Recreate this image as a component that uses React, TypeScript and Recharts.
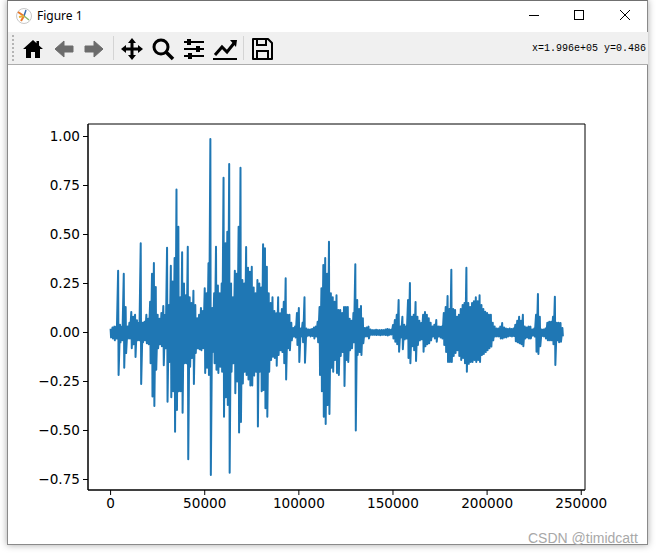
import { LineChart, Line, XAxis, YAxis, ReferenceArea } from 'recharts';

// one column of the waveform every 1000 samples: upper and lower envelope
const peaks = [
  .02, .025, .03, .03, .315, .04, .03, .30, .13, .03,
  .05, .105, .08, .09, .063, .05, .455, .05, .055, .09,
  .07, .157, .30, .354, .232, .09, .07, .1, .135, .09,
  .433, .14, .34, .26, .38, .73, .54, .18, .41, .25,
  .19, .438, .18, .15, .213, .14, .073, .09, .125, .11,
  .226, .2, .353, .987, .125, .2, .438, .24, .2, .25,
  .79, .455, .514, .86, .25, .18, .315, .30, .54, .84,
  .268, .25, .436, .33, .31, .336, .23, .2, .268, .25,
  .23, .45, .43, .336, .2, .15, .18, .11, .098, .18,
  .098, .12, .157, .277, .09, .09, .05, .023, .03, .1,
  .125, .02, .05, .18, .02, .015, .015, .018, .025, .03,
  .055, .13, .226, .344, .38, .3, .463, .2, .18, .157,
  .19, .115, .115, .1, .13, .13, .13, .07, .06, .1,
  .348, .166, .12, .135, .073, .023, .025, .03, .015, .012,
  .012, .014, .012, .012, .013, .012, .015, .018, .016, .014,
  .038, .064, .09, .166, .03, .08, .04, .03, .166, .252,
  .08, .09, .155, .08, .06, .048, .09, .104, .09, .073,
  .05, .03, .04, .064, .03, .03, .03, .1, .13, .186,
  .12, .32, .12, .115, .08, .09, .12, .14, .15, .33,
  .15, .13, .15, .16, .18, .16, .19, .14, .12, .106,
  .1, .09, .09, .05, .03, .02, .02, .03, .048, .025,
  .02, .018, .02, .018, .02, .04, .06, .08, .06, .09,
  .03, .025, .03, .03, .015, .02, .09, .196, .08, .015,
  .015, .02, .05, .055, .055, .08, .183, .05, .05, .048, .023,
];

const troughs = [
  -.025, -.03, -.04, -.03, -.217, -.05, -.04, -.18, -.105, -.03,
  -.03, -.08, -.06, -.125, -.04, -.04, -.263, -.05, -.04, -.055,
  -.06, -.157, -.327, -.375, -.19, -.08, -.06, -.07, -.167, -.08,
  -.353, -.15, -.33, -.3, -.506, -.396, -.3, -.3, -.41, -.157,
  -.157, -.647, -.175, -.13, -.263, -.105, -.08, -.085, -.09, -.08,
  -.207, -.18, -.217, -.727, -.1, -.157, -.19, -.207, -.175, -.2,
  -.43, -.33, -.37, -.715, -.2, -.157, -.31, -.25, -.51, -.457,
  -.26, -.2, -.217, -.24, -.27, -.27, -.22, -.2, -.48, -.2,
  -.30, -.293, -.386, -.43, -.2, -.14, -.124, -.13, -.17, -.115,
  -.09, -.1, -.157, -.24, -.08, -.09, -.04, -.02, -.025, -.064,
  -.15, -.02, -.05, -.154, -.02, -.015, -.02, -.018, -.03, -.02,
  -.05, -.217, -.30, -.43, -.467, -.37, -.416, -.18, -.2, -.14,
  -.207, -.217, -.12, -.1, -.273, -.14, -.15, -.09, -.08, -.05,
  -.5, -.115, -.1, -.115, -.055, -.02, -.02, -.03, -.012, -.012,
  -.012, -.013, -.012, -.014, -.012, -.012, -.013, -.015, -.012, -.01,
  -.03, -.047, -.06, -.098, -.025, -.085, -.035, -.03, -.13, -.157,
  -.07, -.09, -.145, -.064, -.04, -.035, -.098, -.07, -.06, -.055,
  -.04, -.02, -.03, -.047, -.02, -.025, -.03, -.064, -.1, -.15,
  -.15, -.15, -.12, -.105, -.09, -.12, -.14, -.13, -.157, -.2,
  -.16, -.15, -.15, -.14, -.15, -.14, -.15, -.115, -.11, -.1,
  -.09, -.08, -.072, -.04, -.02, -.02, -.02, -.03, -.03, -.025,
  -.025, -.02, -.018, -.02, -.018, -.045, -.05, -.055, -.06, -.07,
  -.03, -.025, -.03, -.03, -.015, -.02, -.098, -.11, -.07, -.018,
  -.02, -.03, -.04, -.04, -.04, -.06, -.166, -.04, -.05, -.047, -.02,
];

const xTicks = [0, 50000, 100000, 150000, 200000, 250000];
const yTicks = [-0.75, -0.5, -0.25, 0, 0.25, 0.5, 0.75, 1];
const xDomain = [-12000, 252000];
const yDomain = [-0.8036, 1.0638];

const waveform = peaks.flatMap((p, i) => [
  { sample: i * 1000, value: p },
  { sample: i * 1000 + 250, value: troughs[i] },
]);

const tickStyle = { fill: '#000', fontSize: 13.6, fontFamily: 'DejaVu Sans' };
const formatY = (v: number) => v.toFixed(2).replace('-', '\u2212');

function Icon({ x, children }: { x: number; children: React.ReactNode }) {
  return (
    <svg width={24} height={24} viewBox="0 0 24 24" style={{ position: 'absolute', left: x - 12, top: 37 }}>
      {children}
    </svg>
  );
}

function Toolbar() {
  return (
    <div style={{ position: 'absolute', left: 8, right: 8, top: 32, height: 32, background: '#f0f0f0', borderBottom: '1px solid #acacac' }}>
      <div style={{ position: 'absolute', left: 4, top: 3, width: 2, height: 26, borderLeft: '2px dotted #b4b4b4' }} />
      <div style={{ position: 'absolute', left: 105, top: 4, width: 1, height: 24, background: '#d4d4d4' }} />
      <div style={{ position: 'absolute', left: 235, top: 4, width: 1, height: 24, background: '#d4d4d4' }} />
    </div>
  );
}

function Icons() {
  return (
    <div>
      <Icon x={33}>
        <path d="M12 3 L2 12 L5 12 L5 21 L10 21 L10 15 L14 15 L14 21 L19 21 L19 12 L22 12 L18 8.5 L18 4 L15.5 4 L15.5 6.2 Z" fill="#000" />
      </Icon>
      <Icon x={64}>
        <path d="M12 4 L3 12 L12 20 L12 15 L21 15 L21 9 L12 9 Z" fill="#6c6c6c" stroke="#6c6c6c" strokeLinejoin="round" />
      </Icon>
      <Icon x={94}>
        <path d="M12 4 L21 12 L12 20 L12 15 L3 15 L3 9 L12 9 Z" fill="#6c6c6c" stroke="#6c6c6c" strokeLinejoin="round" />
      </Icon>
      <Icon x={132}>
        <path d="M12 1 L16 6 L13.5 6 L13.5 10.5 L18 10.5 L18 8 L23 12 L18 16 L18 13.5 L13.5 13.5 L13.5 18 L16 18 L12 23 L8 18 L10.5 18 L10.5 13.5 L6 13.5 L6 16 L1 12 L6 8 L6 10.5 L10.5 10.5 L10.5 6 L8 6 Z" fill="#000" />
      </Icon>
      <Icon x={163}>
        <circle cx={10} cy={10} r={7} fill="none" stroke="#000" strokeWidth={3} />
        <path d="M15 15 L22 22" stroke="#000" strokeWidth={3.5} />
      </Icon>
      <Icon x={194}>
        <path d="M2 5 H22 M2 12 H22 M2 19 H22" stroke="#000" strokeWidth={2} />
        <rect x={5} y={2} width={4} height={6} fill="#000" />
        <rect x={14} y={9} width={4} height={6} fill="#000" />
        <rect x={6} y={16} width={4} height={6} fill="#000" />
      </Icon>
      <Icon x={225}>
        <path d="M0 22 H24" stroke="#000" strokeWidth={2} />
        <path d="M2 18 L9 10 L14 15 L22 5" fill="none" stroke="#000" strokeWidth={3} />
        <path d="M17 3 L24 3 L23 10 Z" fill="#000" />
      </Icon>
      <Icon x={262}>
        <path d="M3 2 H18 L22 6 V22 H3 Z" fill="none" stroke="#000" strokeWidth={2} strokeLinejoin="round" />
        <path d="M7 2 V8 H16 V2 M7 22 V14 H18 V22" fill="none" stroke="#000" strokeWidth={2} />
      </Icon>
    </div>
  );
}

function TitleBar() {
  return (
    <div>
      <svg width={18} height={18} viewBox="0 0 18 18" style={{ position: 'absolute', left: 15, top: 7 }}>
        <circle cx={9} cy={9} r={7.5} fill="#fff" stroke="#c8c8c8" />
        <path d="M9 9 L3 5" stroke="#e8792b" strokeWidth={2} />
        <path d="M9 9 L6 14" stroke="#e8792b" strokeWidth={2} />
        <path d="M9 9 L11 3" stroke="#3c6fb0" strokeWidth={1.5} />
        <path d="M9 9 L14 13" stroke="#88b86a" strokeWidth={1.5} />
        <path d="M9 9 L4 10" stroke="#e8b23c" strokeWidth={2} />
      </svg>
      <div style={{ position: 'absolute', left: 37, top: 7, fontFamily: 'Noto Sans', fontSize: 12, lineHeight: '17px', color: '#000' }}>Figure 1</div>
      <svg width={656} height={32} style={{ position: 'absolute', left: 0, top: 0 }}>
        <path d="M529 15.5 H539" stroke="#000" />
        <rect x={574.5} y={10.5} width={9} height={9} fill="none" stroke="#000" />
        <path d="M620 10 L630 20 M630 10 L620 20" stroke="#000" />
      </svg>
    </div>
  );
}

export default function App() {
  return (
    <div style={{ position: 'fixed', left: 0, top: 0, width: 656, height: 553, overflow: 'hidden', background: '#fff' }}>
      <div style={{ position: 'absolute', left: 7, top: 0, width: 641, height: 545, background: '#fff', borderTop: '1px solid #707070', borderLeft: '1px solid #8a8a8a', borderRight: '1px solid #8a8a8a', borderBottom: '1px solid #8a8a8a', boxSizing: 'border-box', boxShadow: '0 0 7px rgba(0,0,0,0.35)' }} />
      <Toolbar />
      <Icons />
      <TitleBar />
      <div style={{ position: 'absolute', right: 10, top: 43, fontFamily: 'Liberation Mono', fontSize: 10, lineHeight: '12px', color: '#000', whiteSpace: 'pre' }}>x=1.996e+05 y=0.486</div>
      <div style={{ position: 'absolute', left: 0, top: 0 }}>
        <LineChart width={656} height={553} data={waveform} margin={{ left: 38, right: 71, top: 124, bottom: 33 }}>
          <XAxis dataKey="sample" type="number" domain={xDomain} ticks={xTicks} interval={0} height={30}
            tick={tickStyle} tickLine={{ stroke: '#000' }} axisLine={{ stroke: '#000' }} tickSize={5} tickMargin={3} />
          <YAxis type="number" domain={yDomain} ticks={yTicks} interval={0} width={50} tickFormatter={formatY}
            tick={tickStyle} tickLine={{ stroke: '#000' }} axisLine={{ stroke: '#000' }} tickSize={5} tickMargin={3} />
          <Line dataKey="value" type="linear" stroke="#1f77b4" strokeWidth={2} strokeLinejoin="round" dot={false} isAnimationActive={false} />
          <ReferenceArea x1={xDomain[0]} x2={xDomain[1]} y1={yDomain[0]} y2={yDomain[1]} fill="none" stroke="#000" strokeOpacity={1} />
        </LineChart>
      </div>
      <div style={{ position: 'absolute', left: 528, top: 530, fontFamily: 'Liberation Sans', fontSize: 14, lineHeight: '16px', color: '#a8a8a8', whiteSpace: 'pre' }}>CSDN @timidcatt</div>
    </div>
  );
}
